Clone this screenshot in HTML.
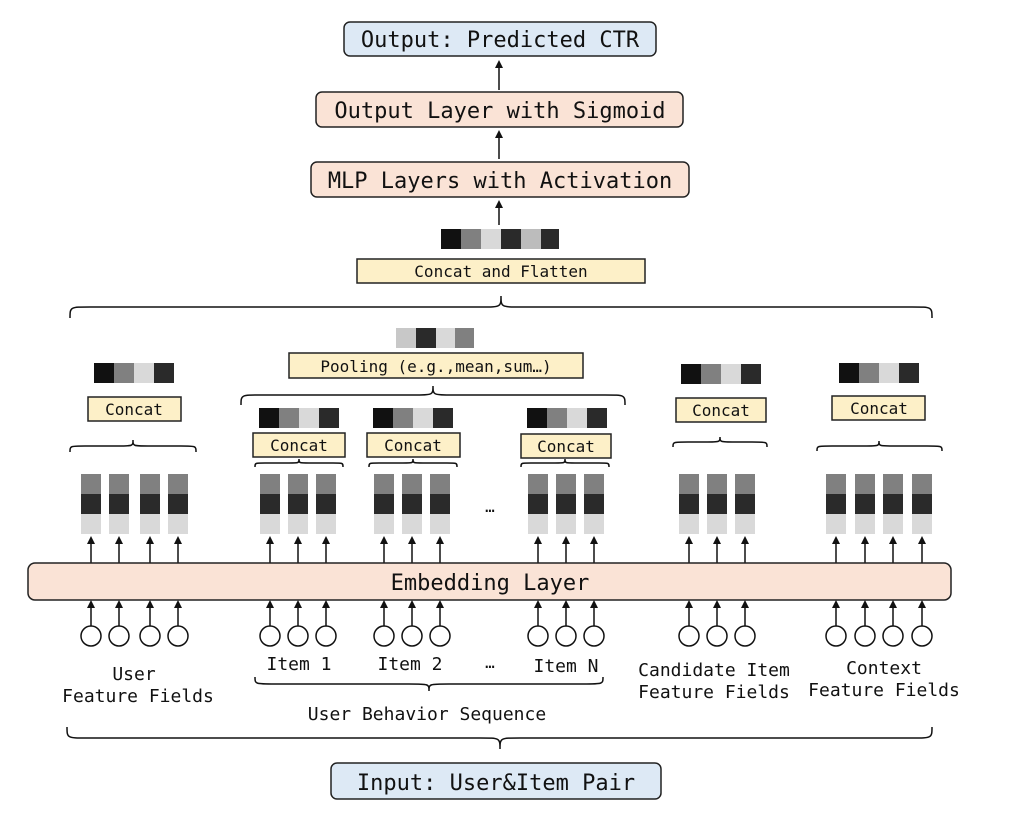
<!DOCTYPE html>
<html><head><meta charset="utf-8"><style>
html,body{margin:0;padding:0;background:#fff;}
svg{display:block;}
text{font-family:"DejaVu Sans Mono","Liberation Mono",monospace;fill:#111;}
</style></head><body>
<svg width="1026" height="816" viewBox="0 0 1026 816" xmlns="http://www.w3.org/2000/svg">
<defs>
<marker id="ah" markerWidth="8" markerHeight="8" refX="4" refY="4" orient="auto" markerUnits="userSpaceOnUse">
<path d="M0,0 L8,4 L0,8 z" fill="#111"/></marker>
<g id="col">
<rect x="0" y="0" width="20" height="20" fill="#808080"/>
<rect x="0" y="20" width="20" height="20" fill="#2a2a2a"/>
<rect x="0" y="40" width="20" height="20" fill="#d9d9d9"/>
<line x1="10" y1="91" x2="10" y2="66" stroke="#111" stroke-width="1.5" marker-end="url(#ah)"/>
<line x1="10" y1="152" x2="10" y2="130" stroke="#111" stroke-width="1.5" marker-end="url(#ah)"/>
<circle cx="10" cy="162" r="10" fill="#fff" stroke="#111" stroke-width="1.5"/>
</g>
<g id="vec">
<rect x="0" y="0" width="20" height="20" fill="#111"/>
<rect x="20" y="0" width="20" height="20" fill="#808080"/>
<rect x="40" y="0" width="20" height="20" fill="#d9d9d9"/>
<rect x="60" y="0" width="20" height="20" fill="#2a2a2a"/>
</g>
</defs>

<!-- top boxes -->
<rect x="344" y="22" width="312" height="34" rx="6" fill="#dde9f5" stroke="#222" stroke-width="1.5"/>
<text x="500" y="47" font-size="22" text-anchor="middle">Output: Predicted CTR</text>
<line x1="499" y1="90" x2="499" y2="64" stroke="#111" stroke-width="1.5" marker-end="url(#ah)"/>
<rect x="316" y="92" width="367" height="35" rx="6" fill="#fae3d6" stroke="#222" stroke-width="1.5"/>
<text x="500" y="118" font-size="22" text-anchor="middle">Output Layer with Sigmoid</text>
<line x1="499" y1="159" x2="499" y2="134" stroke="#111" stroke-width="1.5" marker-end="url(#ah)"/>
<rect x="311" y="162" width="378" height="35" rx="6" fill="#fae3d6" stroke="#222" stroke-width="1.5"/>
<text x="500" y="188" font-size="22" text-anchor="middle">MLP Layers with Activation</text>
<line x1="499" y1="225" x2="499" y2="204" stroke="#111" stroke-width="1.5" marker-end="url(#ah)"/>

<rect x="441" y="229" width="20" height="20" fill="#111"/>
<rect x="461" y="229" width="20" height="20" fill="#808080"/>
<rect x="481" y="229" width="20" height="20" fill="#d9d9d9"/>
<rect x="501" y="229" width="20" height="20" fill="#2a2a2a"/>
<rect x="521" y="229" width="20" height="20" fill="#bcbcbc"/>
<rect x="541" y="229" width="18" height="20" fill="#2a2a2a"/>
<rect x="357" y="259" width="288" height="24" fill="#fdf0c8" stroke="#222" stroke-width="1.5"/>
<text x="501" y="277" font-size="16" text-anchor="middle">Concat and Flatten</text>

<g fill="none" stroke="#111" stroke-width="1.5">
<path d="M70 318 C70 307 70 307 90 307 L481 307 C501 307 501 307 501 296 C501 307 501 307 521 307 L912 307 C932 307 932 307 932 318"/>
<path d="M241 405 C241 395 241 395 261 395 L413 395 C433 395 433 395 433 386 C433 395 433 395 453 395 L605 395 C625 395 625 395 625 405"/>
<path d="M70 452 C70 446 70 446 85 446 L118 446 C133 446 133 446 133 440 C133 446 133 446 148 446 L181 446 C196 446 196 446 196 452"/>
<path d="M255 467 C255 463 255 463 265 463 L289 463 C299 463 299 463 299 459 C299 463 299 463 309 463 L333 463 C343 463 343 463 343 467"/>
<path d="M369 467 C369 463 369 463 379 463 L403 463 C413 463 413 463 413 459 C413 463 413 463 423 463 L447 463 C457 463 457 463 457 467"/>
<path d="M521 467 C521 463 521 463 531 463 L555 463 C565 463 565 463 565 459 C565 463 565 463 575 463 L599 463 C609 463 609 463 609 467"/>
<path d="M673 447 C673 442 673 442 688 442 L705 442 C720 442 720 442 720 437 C720 442 720 442 735 442 L752 442 C767 442 767 442 767 447"/>
<path d="M817 451 C817 446 817 446 832 446 L864 446 C879 446 879 446 879 441 C879 446 879 446 894 446 L927 446 C942 446 942 446 942 451"/>
<path d="M255 677 C255 684 255 684 275 684 L409 684 C429 684 429 684 429 691 C429 684 429 684 449 684 L583 684 C603 684 603 684 603 677"/>
<path d="M67 727 C67 738 67 738 87 738 L480 738 C500 738 500 738 500 749 C500 738 500 738 520 738 L912 738 C932 738 932 738 932 727"/>
</g>

<!-- pooling -->
<rect x="396" y="328" width="20" height="20" fill="#c8c8c8"/>
<rect x="416" y="328" width="20" height="20" fill="#2a2a2a"/>
<rect x="436" y="328" width="19" height="20" fill="#d9d9d9"/>
<rect x="455" y="328" width="19" height="20" fill="#808080"/>
<rect x="289" y="353" width="294" height="25" fill="#fdf0c8" stroke="#222" stroke-width="1.5"/>
<text x="436" y="372" font-size="16" text-anchor="middle">Pooling (e.g.,mean,sum…)</text>

<!-- vectors & concat boxes -->
<use href="#vec" x="94" y="363"/>
<rect x="88" y="397" width="93" height="24" fill="#fdf0c8" stroke="#222" stroke-width="1.5"/>
<text x="134" y="415" font-size="16" text-anchor="middle">Concat</text>
<use href="#vec" x="259" y="408"/>
<rect x="253" y="433" width="92" height="24" fill="#fdf0c8" stroke="#222" stroke-width="1.5"/>
<text x="299" y="451" font-size="16" text-anchor="middle">Concat</text>
<use href="#vec" x="373" y="408"/>
<rect x="367" y="433" width="93" height="24" fill="#fdf0c8" stroke="#222" stroke-width="1.5"/>
<text x="413" y="451" font-size="16" text-anchor="middle">Concat</text>
<use href="#vec" x="527" y="408"/>
<rect x="521" y="434" width="90" height="24" fill="#fdf0c8" stroke="#222" stroke-width="1.5"/>
<text x="566" y="452" font-size="16" text-anchor="middle">Concat</text>
<use href="#vec" x="681" y="364"/>
<rect x="676" y="398" width="90" height="24" fill="#fdf0c8" stroke="#222" stroke-width="1.5"/>
<text x="721" y="416" font-size="16" text-anchor="middle">Concat</text>
<use href="#vec" x="839" y="363"/>
<rect x="832" y="396" width="93" height="24" fill="#fdf0c8" stroke="#222" stroke-width="1.5"/>
<text x="879" y="414" font-size="16" text-anchor="middle">Concat</text>

<!-- columns -->
<use href="#col" x="81" y="474"/><use href="#col" x="109" y="474"/><use href="#col" x="140" y="474"/><use href="#col" x="168" y="474"/>
<use href="#col" x="260" y="474"/><use href="#col" x="288" y="474"/><use href="#col" x="316" y="474"/>
<use href="#col" x="374" y="474"/><use href="#col" x="402" y="474"/><use href="#col" x="430" y="474"/>
<use href="#col" x="528" y="474"/><use href="#col" x="556" y="474"/><use href="#col" x="584" y="474"/>
<use href="#col" x="679" y="474"/><use href="#col" x="707" y="474"/><use href="#col" x="735" y="474"/>
<use href="#col" x="826" y="474"/><use href="#col" x="855" y="474"/><use href="#col" x="883" y="474"/><use href="#col" x="912" y="474"/>
<text x="490" y="512" font-size="16" text-anchor="middle">…</text>
<text x="490" y="668" font-size="16" text-anchor="middle">…</text>

<rect x="28" y="563" width="923" height="37" rx="7" fill="#fae3d6" stroke="#222" stroke-width="1.5"/>
<text x="490" y="590" font-size="22" text-anchor="middle">Embedding Layer</text>

<!-- labels -->
<g font-size="18" text-anchor="middle">
<text x="134" y="680">User</text>
<text x="138" y="702">Feature Fields</text>
<text x="299" y="670">Item 1</text>
<text x="410" y="670">Item 2</text>
<text x="566" y="672">Item N</text>
<text x="427" y="720">User Behavior Sequence</text>
<text x="714" y="676">Candidate Item</text>
<text x="714" y="698">Feature Fields</text>
<text x="884" y="674">Context</text>
<text x="884" y="696">Feature Fields</text>
</g>

<rect x="331" y="763" width="330" height="36" rx="6" fill="#dde9f5" stroke="#222" stroke-width="1.5"/>
<text x="496" y="790" font-size="22" text-anchor="middle">Input: User&amp;Item Pair</text>
</svg>
</body></html>
